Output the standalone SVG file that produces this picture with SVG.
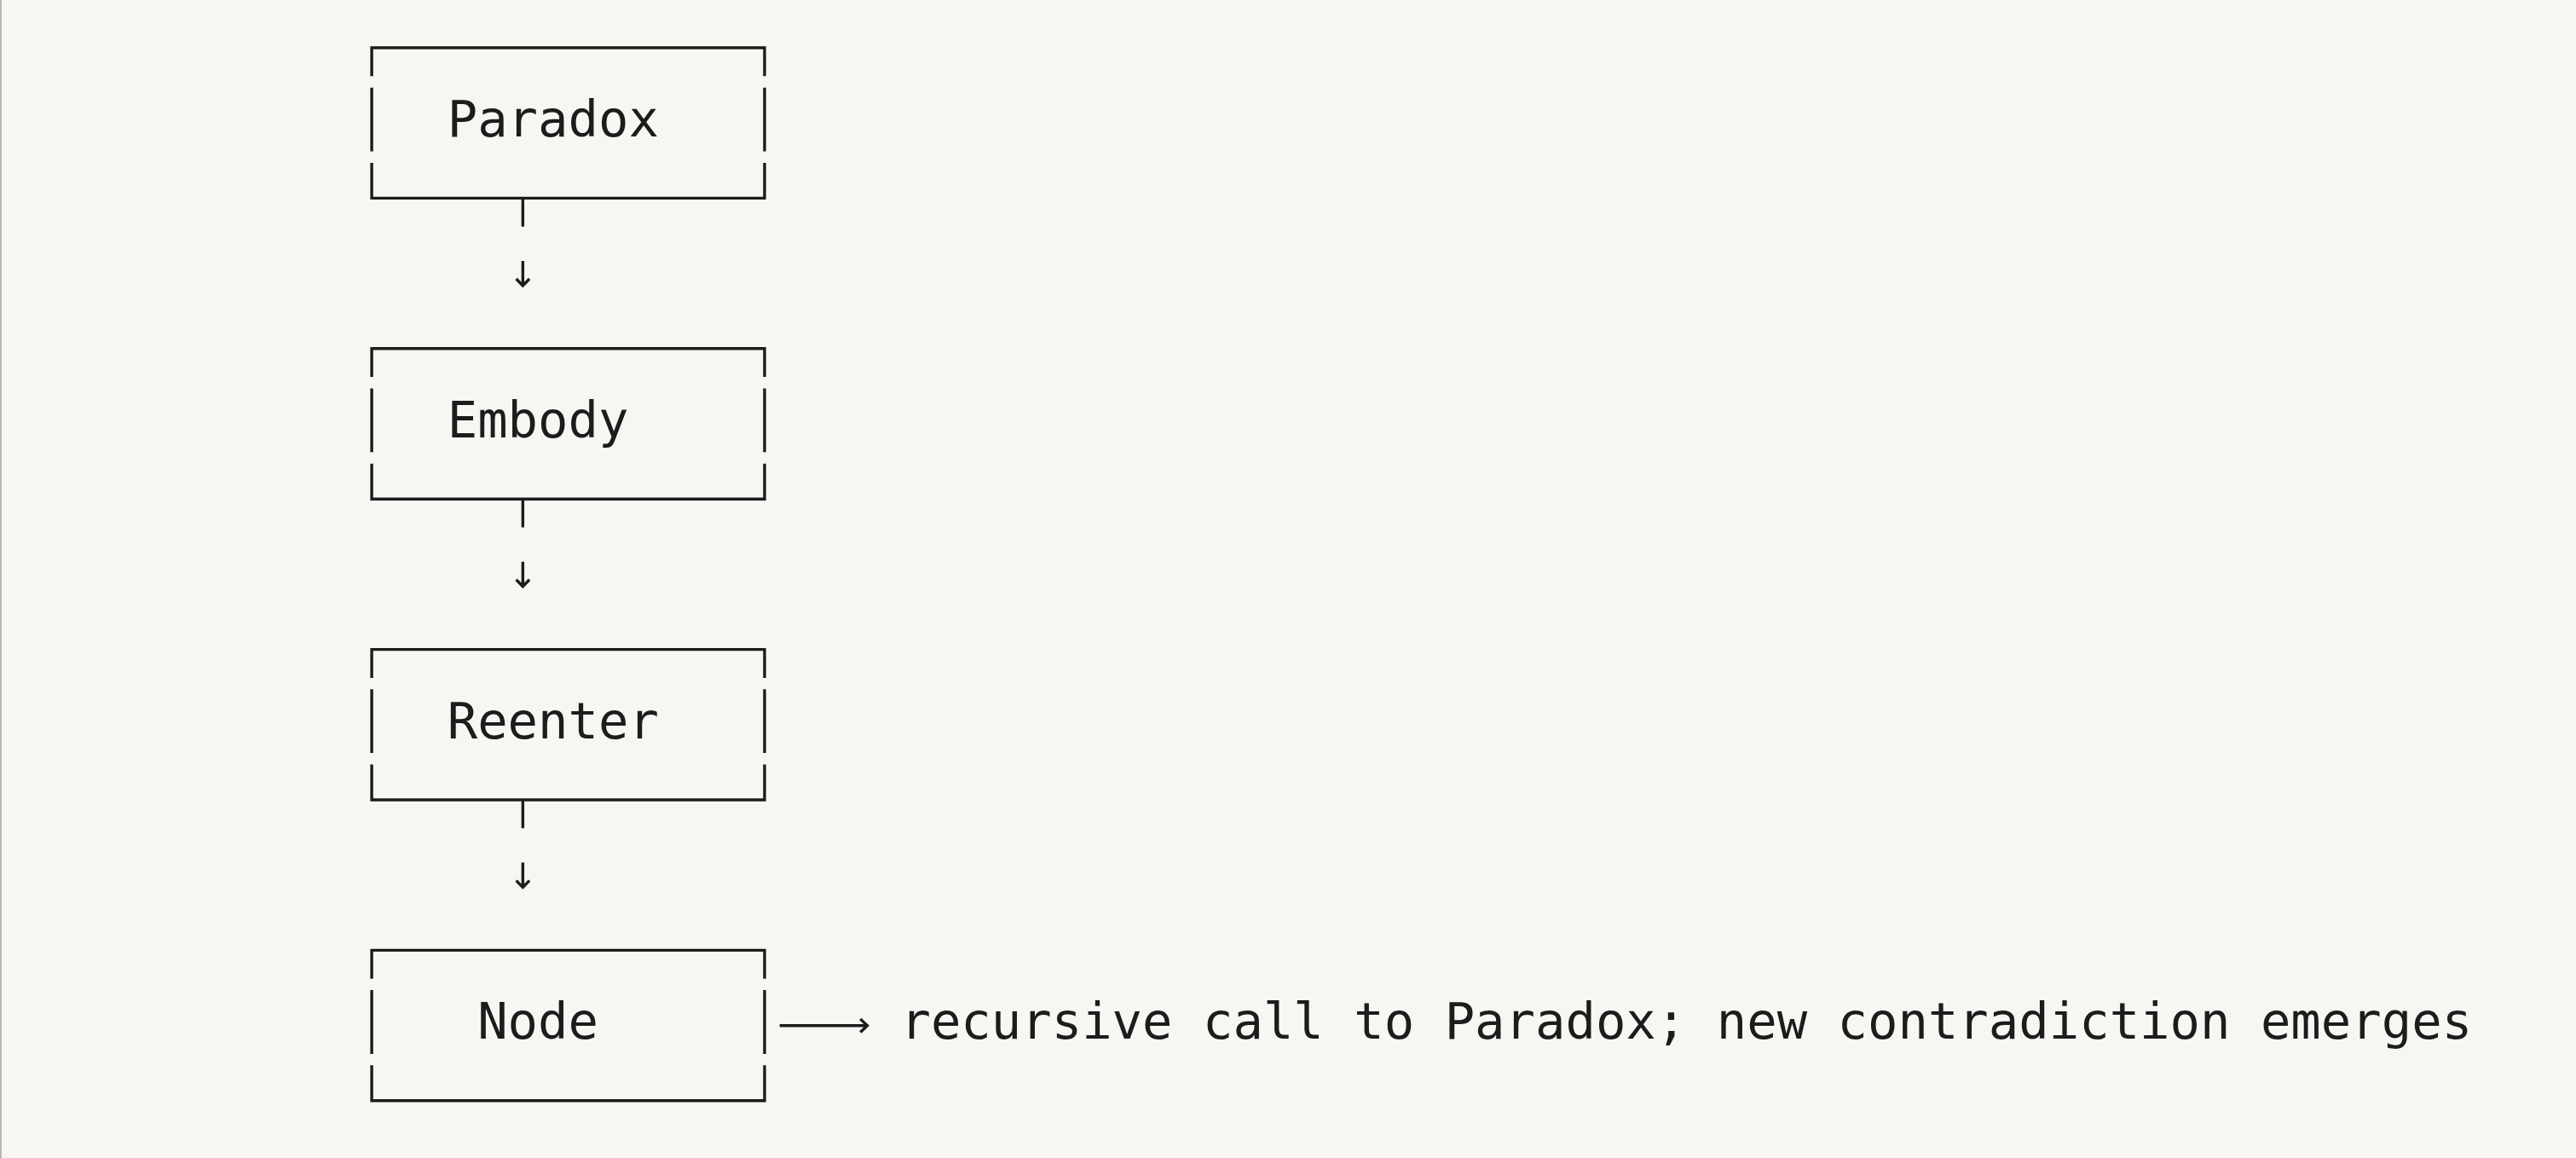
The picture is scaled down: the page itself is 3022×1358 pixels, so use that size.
<svg xmlns="http://www.w3.org/2000/svg" width="3022" height="1358" viewBox="0 0 3022 1358">
  <style>
    .bg { fill: #f7f6f2; }
    .edge { stroke: #b9b8b3; stroke-width: 2; }
    .box { fill: none; stroke: #1c1c1c; stroke-width: 3.4; stroke-linejoin: miter; stroke-linecap: butt; }
    .wire { fill: none; stroke: #1c1c1c; stroke-width: 3.4; stroke-linecap: butt; }
    .head { fill: none; stroke: #1c1c1c; stroke-width: 3.4; stroke-linejoin: miter; stroke-linecap: butt; }
    .label { font-family: "DejaVu Sans Mono", "Liberation Mono", monospace; font-size: 58.9px; fill: #1c1c1c; }
  </style>
  <defs>
    <path id="frame" class="box" d="M436.1,89.3 V56 H896.95 V89.3 M436.1,102.7 V177.5 M896.95,102.7 V177.5 M436.1,190.9 V232.4 H896.95 V190.9"/>
    <g id="down">
      <path class="wire" d="M613.35,232.4 V265.7 M613.35,306 V335"/>
      <path class="head" d="M605.6,327 L613.35,335 L621.1,327"/>
    </g>
  </defs>
  <rect class="bg" x="0" y="0" width="3022" height="1358"/>
  <line class="edge" x1="1" y1="0" x2="1" y2="1358"/>

  <g id="node-paradox">
    <use href="#frame"/>
    <text class="label" x="524.7" y="160">Paradox</text>
  </g>
  <g id="node-embody" transform="translate(0,352.8)">
    <use href="#frame"/>
    <text class="label" x="524.7" y="160">Embody</text>
  </g>
  <g id="node-reenter" transform="translate(0,705.6)">
    <use href="#frame"/>
    <text class="label" x="524.7" y="160">Reenter</text>
  </g>
  <g id="node-node" transform="translate(0,1058.4)">
    <use href="#frame"/>
    <text class="label" x="560.15" y="160">Node</text>
  </g>

  <g id="connectors">
    <use href="#down"/>
    <use href="#down" transform="translate(0,352.8)"/>
    <use href="#down" transform="translate(0,705.6)"/>
    <g id="node-to-note">
      <path class="wire" d="M914.65,1202.8 H1017"/>
      <path class="head" d="M1009.3,1195 L1017.5,1202.8 L1009.3,1210.6"/>
    </g>
  </g>

  <g id="note">
    <text class="label" x="1056.45" y="1218.4">recursive call to Paradox; new contradiction emerges</text>
  </g>
</svg>
